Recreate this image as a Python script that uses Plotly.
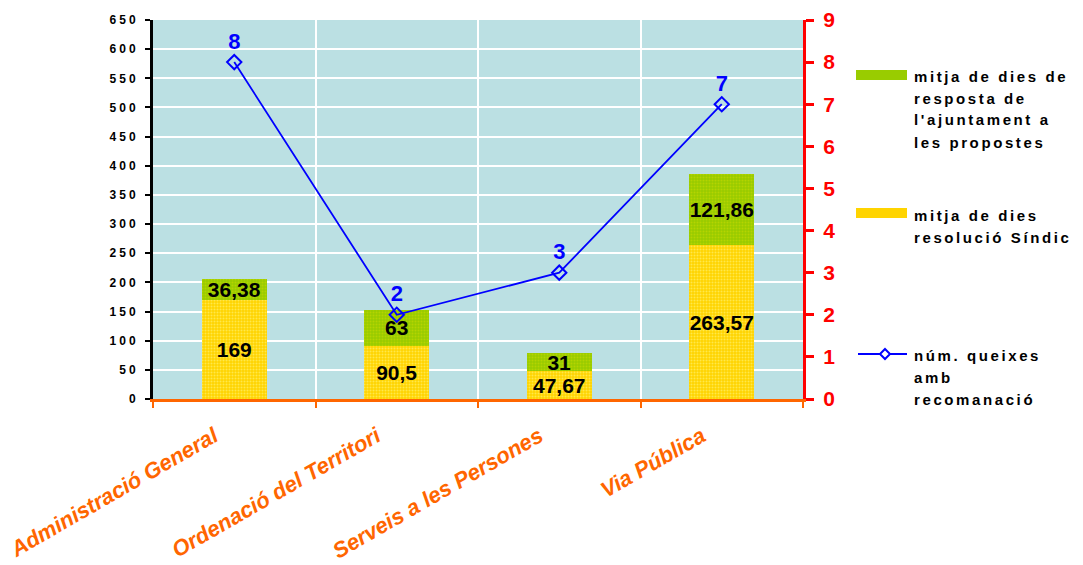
import plotly.graph_objects as go

categories = ["Administració General", "Ordenació del Territori", "Serveis a les Persones", "Via Pública"]
resolucio_sindic = [169, 90.5, 47.67, 263.57]
resposta_ajuntament = [36.38, 63, 31, 121.86]
num_queixes = [8, 2, 3, 7]

left_ticks = list(range(0, 651, 50))
right_ticks = list(range(0, 10))

name_green = ["mitja de dies de", "resposta de", "l'ajuntament a", "les propostes"]
name_yellow = ["mitja de dies", "resolució Síndic"]
name_line = ["núm. queixes", "amb", "recomanació"]

FONT = "Arial, Liberation Sans, sans-serif"
YELLOW = "#FFD400"
GREEN = "#99CC00"
BLUE = "#0000FF"
ORANGE = "#FF6600"
RED = "#FF0000"
BG = "#BBE0E3"


def fmt(v):
    return f"{v:g}".replace(".", ",")


def spaced(s, sp=2.5):
    return f'<span style="letter-spacing:{sp}px">{s}</span>'


fig = go.Figure()
fig.add_trace(go.Bar(
    x=categories, y=resolucio_sindic, name=" ".join(name_yellow),
    marker=dict(color=YELLOW, line=dict(width=0),
                pattern=dict(shape=".", bgcolor=YELLOW, fgcolor="#FFE84A", size=3, solidity=0.35, fillmode="replace")),
    text=[fmt(v) for v in resolucio_sindic], textposition="inside", insidetextanchor="middle",
    textangle=0, textfont=dict(family=FONT, size=21, color="black", weight="bold"),
    width=0.4, showlegend=False, yaxis="y",
))
fig.add_trace(go.Bar(
    x=categories, y=resposta_ajuntament, name=" ".join(name_green),
    marker=dict(color=GREEN, line=dict(width=0),
                pattern=dict(shape=".", bgcolor=GREEN, fgcolor="#B5D400", size=3, solidity=0.35, fillmode="replace")),
    text=[fmt(v) for v in resposta_ajuntament], textposition="inside", insidetextanchor="middle",
    textangle=0, textfont=dict(family=FONT, size=21, color="black", weight="bold"),
    width=0.4, showlegend=False, yaxis="y",
))
fig.add_trace(go.Scatter(
    x=categories, y=num_queixes, name=" ".join(name_line), yaxis="y2",
    mode="lines+markers+text",
    line=dict(color=BLUE, width=1.8),
    marker=dict(symbol="diamond-open", size=11, color=BLUE, line=dict(width=2, color=BLUE)),
    text=[str(v) for v in num_queixes], textposition="top center",
    textfont=dict(family=FONT, size=22, color=BLUE, weight="bold"),
    showlegend=False, cliponaxis=False,
))

L, R, T, B = 153, 280, 20, 166
W, H = 1083, 565
pw, ph = W - L - R, H - T - B


def px2paper(x, y):
    return (x - L) / pw, (H - B - y) / ph


shapes = []
annotations = []
LEG_FONT = dict(family=FONT, size=15, color="black", weight="bold")
LEG_SP = 2.6

# legend: green
x0, y0 = px2paper(856, 70)
x1, y1 = px2paper(907, 80)
shapes.append(dict(type="rect", xref="paper", yref="paper", x0=x0, x1=x1, y0=y1, y1=y0,
                   fillcolor=GREEN, line=dict(width=0)))
for i, s in enumerate(name_green):
    xa, ya = px2paper(912, 76 + 22 * i)
    annotations.append(dict(xref="paper", yref="paper", x=xa, y=ya, xanchor="left", yanchor="middle",
                            text=spaced(s, LEG_SP), showarrow=False, font=LEG_FONT))
# legend: yellow
x0, y0 = px2paper(856, 208)
x1, y1 = px2paper(907, 218)
shapes.append(dict(type="rect", xref="paper", yref="paper", x0=x0, x1=x1, y0=y1, y1=y0,
                   fillcolor=YELLOW, line=dict(width=0)))
for i, s in enumerate(name_yellow):
    xa, ya = px2paper(912, 215 + 22 * i)
    annotations.append(dict(xref="paper", yref="paper", x=xa, y=ya, xanchor="left", yanchor="middle",
                            text=spaced(s, LEG_SP), showarrow=False, font=LEG_FONT))
# legend: line
x0, y0 = px2paper(858, 354)
x1, _ = px2paper(907, 354)
shapes.append(dict(type="line", xref="paper", yref="paper", x0=x0, x1=x1, y0=y0, y1=y0,
                   line=dict(color=BLUE, width=1.8)))
cx, cy = 885, 354
pts = [px2paper(cx, cy - 5), px2paper(cx + 5, cy), px2paper(cx, cy + 5), px2paper(cx - 5, cy)]
path = "M " + " L ".join(f"{p[0]},{p[1]}" for p in pts) + " Z"
shapes.append(dict(type="path", xref="paper", yref="paper", path=path,
                   fillcolor="white", line=dict(color=BLUE, width=2)))
for i, s in enumerate(name_line):
    xa, ya = px2paper(912, 355 + 22 * i)
    annotations.append(dict(xref="paper", yref="paper", x=xa, y=ya, xanchor="left", yanchor="middle",
                            text=spaced(s, LEG_SP), showarrow=False, font=LEG_FONT))

fig.update_layout(
    width=W, height=H,
    margin=dict(l=L, r=R, t=T, b=B, pad=0, autoexpand=False),
    paper_bgcolor="white", plot_bgcolor=BG,
    barmode="stack", bargap=0.6,
    uniformtext=dict(minsize=21, mode="show"),
    font=dict(family=FONT),
    xaxis=dict(
        type="category", range=[-0.5, 3.5], tickson="boundaries", automargin=False,
        showgrid=True, gridcolor="white", gridwidth=2,
        showline=True, linecolor=ORANGE, linewidth=3,
        ticks="outside", tickcolor=ORANGE, ticklen=6, tickwidth=2,
        tickangle=-30, ticklabelstandoff=13, ticklabelshift=-20,
        tickfont=dict(family=FONT, size=22, color=ORANGE, weight="bold", style="italic"),
    ),
    yaxis=dict(
        range=[0, 650], tickvals=left_ticks, ticktext=[spaced(str(v), 3) for v in left_ticks],
        automargin=False,
        showgrid=True, gridcolor="white", gridwidth=2, zeroline=False,
        showline=True, linecolor="black", linewidth=3,
        ticks="outside", tickcolor="black", ticklen=5, tickwidth=2,
        ticklabelstandoff=4,
        tickfont=dict(family=FONT, size=12, color="black", weight="bold"),
    ),
    yaxis2=dict(
        range=[0, 9], tickvals=right_ticks, overlaying="y", side="right", automargin=False,
        showgrid=False, zeroline=False,
        showline=True, linecolor=RED, linewidth=3,
        ticks="outside", tickcolor=RED, ticklen=8, tickwidth=3,
        ticklabelstandoff=5,
        tickfont=dict(family=FONT, size=21, color=RED, weight="bold"),
    ),
    shapes=shapes, annotations=annotations,
    showlegend=False,
)

fig.write_html("out.html")
